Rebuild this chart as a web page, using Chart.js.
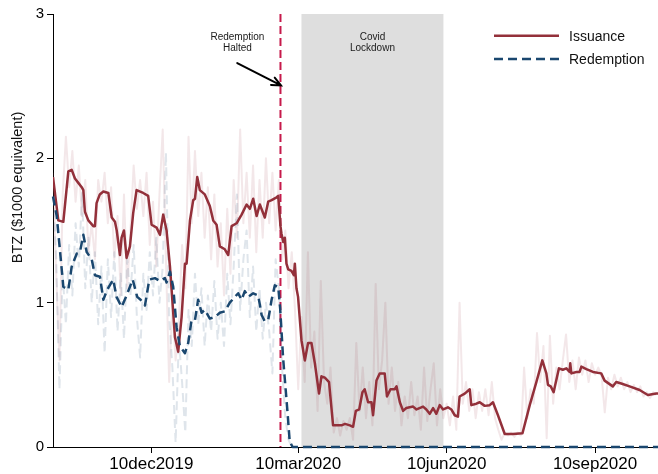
<!DOCTYPE html>
<html>
<head>
<meta charset="utf-8">
<script src="https://cdn.jsdelivr.net/npm/chart.js@4/dist/chart.umd.min.js"></script>
<style>
  html, body { margin: 0; padding: 0; background: #fff; }
  #wrap { width: 658px; height: 474px; }
</style>
</head>
<body>
<div id="wrap"><canvas id="c" width="658" height="474"></canvas></div>
<script>
// Time axis: days counted from 10 Oct 2019 (day 0).
const X_MAX = 375;
const tickDays = [61, 152, 244, 336];
const tickLabels = ['10dec2019', '10mar2020', '10jun2020', '10sep2020'];
const yTickValues = [0, 1, 2, 3];
const haltDay = 141;               // 28 Feb 2020
const lockdownDays = [154, 242];   // 12 Mar 2020 - 8 Jun 2020

// Smoothed issuance (day, BTZ in $1000 equivalent)
const issuanceAvgDays = [0,3.3,6.4,9.5,11.6,13.6,15.7,17.8,18.8,19.8,21.9,25,26,27,29,31.2,34.3,36.4,38.4,39.5,41.5,42.5,44,45.6,47.7,49.7,51.8,55.9,59,61.1,64.2,66.3,68.3,70.4,72.5,75.6,77.6,79.7,81.8,82.8,84.9,86.9,88,89.4,91,94.1,97.2,99.3,101.4,103.4,106.5,108.6,110.7,113.8,116.9,120,122,124.1,126.2,128.2,131.3,133.4,135.5,138.6,139.6,141,141.6,142.7,143.7,144.7,145.8,147.8,149.3,149.9,150.9,151.9,154,156.1,158.1,160.2,162.3,164.9,166.4,168.5,171.1,173.6,178.8,181,184,186,187.7,189.8,191.8,193.2,195.3,197.4,198.4,200.5,202.5,205.6,207,209.2,211.8,212.9,215,217,219,223.2,225.3,229.4,231.4,233.5,235.6,237.6,239.7,241.8,244.8,246.9,249,251,252,255.2,258.3,259.3,262.4,264.5,267.6,270.7,272.7,275.8,280,285.1,291,295.5,299.6,303.3,305.8,306.8,308.5,310.3,313.6,316,318.2,320.2,320.6,321.3,324.4,326.4,327.5,330.6,334.7,339.8,341.9,347,349.1,352.2,357.4,363.6,368.7,373.9,375];
const issuanceAvg = [1.87,1.57,1.56,1.91,1.92,1.86,1.83,1.80,1.78,1.63,1.57,1.53,1.53,1.69,1.75,1.77,1.76,1.59,1.56,1.50,1.33,1.45,1.50,1.31,1.39,1.62,1.78,1.76,1.74,1.54,1.52,1.47,1.61,1.50,1.25,0.76,0.66,0.90,1.27,1.27,1.57,1.71,1.72,1.87,1.78,1.75,1.67,1.57,1.54,1.39,1.37,1.33,1.53,1.55,1.61,1.68,1.65,1.72,1.60,1.68,1.59,1.70,1.71,1.73,1.74,1.53,1.48,1.42,1.45,1.27,1.23,1.22,1.19,1.27,1.10,1.04,0.74,0.60,0.72,0.72,0.58,0.37,0.49,0.48,0.45,0.15,0.15,0.16,0.15,0.14,0.25,0.26,0.38,0.40,0.31,0.31,0.22,0.46,0.51,0.51,0.35,0.40,0.40,0.42,0.31,0.25,0.27,0.28,0.26,0.28,0.26,0.23,0.27,0.23,0.29,0.26,0.275,0.26,0.22,0.21,0.35,0.37,0.40,0.29,0.30,0.31,0.285,0.29,0.31,0.22,0.09,0.09,0.095,0.29,0.45,0.60,0.51,0.43,0.42,0.38,0.545,0.535,0.545,0.52,0.58,0.51,0.52,0.52,0.557,0.54,0.52,0.51,0.46,0.42,0.45,0.44,0.42,0.395,0.36,0.37,0.37];

// Smoothed redemption (day, BTZ in $1000 equivalent)
const redemptionAvgDays = [0,2.3,4.3,6.4,9.5,11.6,14.7,16.7,18.8,20.9,24,26,29.1,31.2,33.6,37.3,39.4,42.5,45.6,49.4,52.2,54.3,57,59.7,63.2,66.3,69.4,70.4,72.5,74.5,76.6,78.6,81.8,83.8,85.9,88,90,92.1,94.1,97.2,100.3,103.4,106.5,109.6,112.7,114.8,116.9,118.9,121,124.1,127.2,129.3,131.3,133.4,135.5,137.5,139.6,140.8,142.6,144.2,145.5,146.7,148.5,375];
const redemptionAvg = [1.735,1.60,1.365,1.11,1.09,1.25,1.34,1.35,1.47,1.35,1.30,1.19,1.18,1.02,1.09,1.16,1.04,0.97,1.05,1.16,1.04,1.02,0.98,1.16,1.17,1.15,1.17,1.14,1.215,1.11,0.83,0.70,0.65,0.72,0.88,0.88,1.02,0.93,0.95,0.89,0.90,0.93,0.94,1.00,1.04,1.065,1.02,1.08,1.04,1.065,1.05,0.915,0.87,0.88,1.02,1.12,1.11,0.96,0.62,0.40,0.22,0.04,0,0];

// Daily observations, one value every DAILY_STEP days starting at day 0
const DAILY_STEP = 2;
const issuanceDaily = [
  1.90,1.20,0.60,1.75,2.15,1.80,2.05,1.70,1.95,1.60,
  1.85,1.35,1.55,1.30,1.85,1.70,1.90,1.55,1.80,1.30,
  1.60,1.05,1.75,1.10,1.50,1.95,1.65,1.85,1.60,1.90,
  1.40,1.70,1.25,1.75,2.20,1.30,0.45,1.00,0.60,0.85,
  1.40,1.10,2.15,1.55,2.05,1.60,1.90,1.45,1.80,1.30,
  1.75,1.25,1.55,1.05,1.65,1.20,1.85,1.45,2.20,1.55,
  1.90,1.45,1.95,1.35,1.85,1.45,2.00,1.55,1.90,1.50,
  1.85,1.30,1.50,1.10,1.35,0.95,0.40,0.90,0.45,1.35,
  0.55,0.80,0.25,1.15,0.45,0.30,0.55,0.10,0.20,0.08,
  0.18,0.12,0.20,0.05,0.72,0.25,0.55,0.20,0.45,0.15,
  1.13,0.40,0.60,1.00,0.30,0.55,0.25,0.45,0.15,0.35,
  0.20,0.45,0.22,0.35,0.12,0.55,0.18,0.40,0.58,0.15,
  0.40,0.20,0.30,0.15,0.35,0.12,1.00,0.30,0.45,0.25,
  0.40,0.20,0.38,0.25,0.40,0.22,0.45,0.20,0.12,0.05,
  0.10,0.08,0.10,0.07,0.10,0.08,0.55,0.20,0.40,0.30,
  0.79,0.45,0.70,0.06,0.77,0.30,0.55,0.40,0.60,0.78,
  0.45,0.60,0.40,0.62,0.50,0.60,0.45,0.58,0.50,0.55,
  0.50,0.24,0.48,0.40,0.50,0.42,0.48,0.40,0.45,0.38,
  0.43,0.38,0.42,0.35,0.38,0.34,0.38,0.36
];
const redemptionDaily = [
  1.75,1.30,0.40,1.20,0.85,1.40,1.05,1.55,1.25,1.76,
  1.10,1.45,1.00,1.35,0.85,1.25,0.65,1.30,0.90,1.35,
  0.80,1.20,0.75,1.30,1.05,1.40,0.90,0.62,1.20,0.95,
  1.35,1.05,1.45,1.00,1.25,2.04,0.90,0.55,0.03,0.75,
  0.45,0.10,0.95,0.70,1.20,0.85,1.10,0.70,1.05,0.80,
  1.15,0.75,1.00,0.70,1.20,0.85,1.25,1.75,0.95,1.30,
  1.50,0.90,1.25,0.80,1.10,0.75,1.00,0.80,0.51,1.30,
  1.10,0.55,0.20,0.05,0
];

const seriesNames = ['Issuance', 'Redemption'];
const ISS = '#93303a';
const RED = '#1a476f';
const FONT = '"Liberation Sans", Arial, Helvetica, sans-serif';

const pairs = (xs, ys) => ys.map((v, i) => ({ x: xs[i], y: v }));
const stepped = (ys) => ys.map((v, i) => ({ x: i * DAILY_STEP, y: v }));

const decorations = {
  id: 'decorations',
  beforeDatasetsDraw(chart) {
    const { ctx, chartArea: a, scales: { x } } = chart;
    const x0 = x.getPixelForValue(lockdownDays[0]);
    const x1 = x.getPixelForValue(lockdownDays[1]);
    ctx.save();
    ctx.fillStyle = '#dedede';
    ctx.fillRect(x0, a.top, x1 - x0, a.bottom - a.top);
    const xh = x.getPixelForValue(haltDay);
    ctx.strokeStyle = '#c61a4b';
    ctx.lineWidth = 2;
    ctx.setLineDash([8, 4]);
    ctx.beginPath();
    ctx.moveTo(xh, a.top);
    ctx.lineTo(xh, a.bottom);
    ctx.stroke();
    ctx.restore();
  },
  afterDatasetsDraw(chart) {
    const { ctx, chartArea: a, scales: { x, y } } = chart;
    ctx.save();
    // annotations
    ctx.fillStyle = '#1a1a1a';
    ctx.font = '10px ' + FONT;
    ctx.textAlign = 'center';
    ctx.textBaseline = 'middle';
    const ax = x.getPixelForValue(114.3);
    ctx.fillText('Redemption', ax, y.getPixelForValue(2.84));
    ctx.fillText('Halted', ax, y.getPixelForValue(2.765));
    const cx = x.getPixelForValue((lockdownDays[0] + lockdownDays[1]) / 2);
    ctx.fillText('Covid', cx, y.getPixelForValue(2.84));
    ctx.fillText('Lockdown', cx, y.getPixelForValue(2.765));

    // arrow pointing at the halt line
    const sx = x.getPixelForValue(114.2), sy = y.getPixelForValue(2.66);
    const ex = x.getPixelForValue(haltDay) + 0.5, ey = y.getPixelForValue(2.505);
    const ang = Math.atan2(ey - sy, ex - sx);
    ctx.strokeStyle = '#000';
    ctx.lineWidth = 2;
    ctx.lineCap = 'round';
    ctx.beginPath();
    ctx.moveTo(sx, sy);
    ctx.lineTo(ex, ey);
    ctx.moveTo(ex - 10 * Math.cos(ang - 0.42), ey - 10 * Math.sin(ang - 0.42));
    ctx.lineTo(ex, ey);
    ctx.lineTo(ex - 10 * Math.cos(ang + 0.42), ey - 10 * Math.sin(ang + 0.42));
    ctx.stroke();

    // legend
    ctx.lineCap = 'butt';
    const lx0 = a.right - 164, lx1 = a.right - 99, tx = a.right - 89;
    const rows = [
      { name: seriesNames[0], color: ISS, dash: [], yy: a.top + 21.7 },
      { name: seriesNames[1], color: RED, dash: [9, 5], yy: a.top + 45 }
    ];
    ctx.font = '14px ' + FONT;
    ctx.textAlign = 'left';
    rows.forEach(r => {
      ctx.strokeStyle = r.color;
      ctx.lineWidth = 2.5;
      ctx.setLineDash(r.dash);
      ctx.beginPath();
      ctx.moveTo(lx0, r.yy);
      ctx.lineTo(lx1, r.yy);
      ctx.stroke();
      ctx.fillStyle = '#111';
      ctx.fillText(r.name, tx, r.yy + 1);
    });
    ctx.restore();
  },
  afterDraw(chart) {
    const { ctx } = chart;
    ctx.save();
    ctx.translate(17.5, 187.5);
    ctx.rotate(-Math.PI / 2);
    ctx.font = '14.5px ' + FONT;
    ctx.fillStyle = '#111';
    ctx.textAlign = 'center';
    ctx.textBaseline = 'middle';
    ctx.fillText('BTZ ($1000 equivalent)', 0, 0);
    ctx.restore();
  }
};

new Chart(document.getElementById('c'), {
  type: 'line',
  data: {
    datasets: [
      { label: seriesNames[1], data: pairs(redemptionAvgDays, redemptionAvg), borderColor: RED, borderWidth: 2.5, borderDash: [9, 5], order: 0, clip: 4 },
      { label: seriesNames[0], data: pairs(issuanceAvgDays, issuanceAvg), borderColor: ISS, borderWidth: 2.5, order: 1 },
      { label: 'redemption daily', data: stepped(redemptionDaily), borderColor: 'rgba(26,71,111,0.14)', borderWidth: 2, borderDash: [9, 5], order: 2 },
      { label: 'issuance daily', data: stepped(issuanceDaily), borderColor: 'rgba(160,60,70,0.12)', borderWidth: 2, order: 3 }
    ]
  },
  options: {
    responsive: false,
    animation: false,
    devicePixelRatio: 1,
    parsing: true,
    layout: { padding: { top: 14, right: 0, left: 0, bottom: 0 } },
    elements: { point: { radius: 0 }, line: { tension: 0, fill: false, borderJoinStyle: 'round' } },
    plugins: { legend: { display: false }, tooltip: { enabled: false } },
    scales: {
      x: {
        type: 'linear',
        min: 0,
        max: X_MAX,
        afterBuildTicks: s => { s.ticks = tickDays.map(v => ({ value: v })); },
        afterFit: s => { s.height = 27; },
        grid: { drawOnChartArea: false, drawTicks: true, tickLength: 6, color: '#000' },
        border: { display: true, color: '#000', width: 1 },
        ticks: {
          autoSkip: false, maxRotation: 0, padding: 1, color: '#000',
          font: { family: FONT, size: 17 },
          callback: v => tickLabels[tickDays.indexOf(v)] || ''
        }
      },
      y: {
        min: 0,
        max: 3,
        afterBuildTicks: s => { s.ticks = yTickValues.map(v => ({ value: v })); },
        afterFit: s => { s.width = 53; },
        grid: { drawOnChartArea: false, drawTicks: true, tickLength: 6, color: '#000' },
        border: { display: true, color: '#000', width: 1 },
        ticks: { padding: 3, color: '#000', font: { family: FONT, size: 15 }, callback: v => String(v) }
      }
    }
  },
  plugins: [decorations]
});
</script>
</body>
</html>
